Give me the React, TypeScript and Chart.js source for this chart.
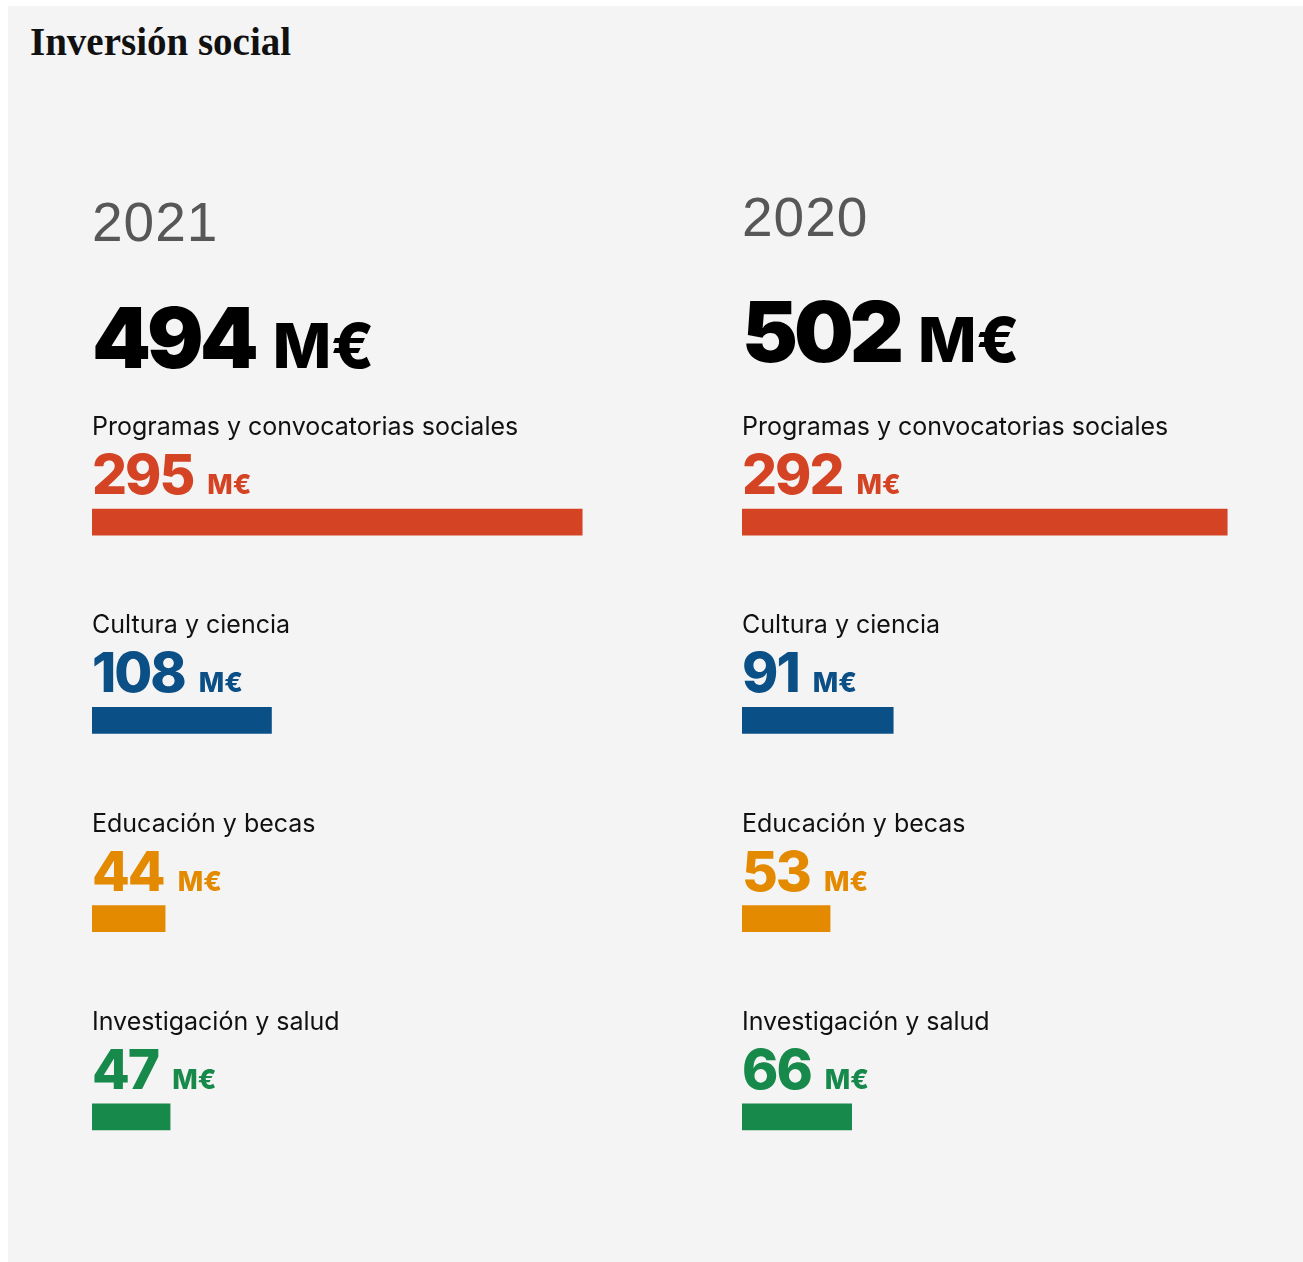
import React, { useEffect, useRef } from "react";
import { Chart, registerables } from "chart.js";

Chart.register(...registerables);

const title = "Inversión social";
const categories = [
  "Programas y convocatorias sociales",
  "Cultura y ciencia",
  "Educación y becas",
  "Investigación y salud",
];
const years = ["2021", "2020"];
const totals = [494, 502];
const values2021 = [295, 108, 44, 47];
const values2020 = [292, 91, 53, 66];
const unit = "M€";
const colors = ["#D44424", "#0B4F87", "#E38A00", "#17894A"];

const SANS = "Inter, 'Liberation Sans', sans-serif";

const labelsPlugin = {
  id: "colLabels",
  afterDatasetsDraw(chart: any, _args: any, opts: any) {
    const ctx = chart.ctx;
    const meta = chart.getDatasetMeta(0);
    const data = chart.data.datasets[0].data;
    const x0 = chart.chartArea.left;
    ctx.save();
    ctx.textAlign = "left";
    ctx.textBaseline = "alphabetic";
    // header: year + total
    ctx.fillStyle = "#575757";
    ctx.font = "400 55px 'Liberation Sans', sans-serif";
    ctx.letterSpacing = "1px";
    ctx.fillText(opts.year, x0, opts.yearY);
    ctx.fillStyle = "#000";
    ctx.font = `900 84px ${SANS}`;
    ctx.letterSpacing = "-4px";
    const t = String(opts.total);
    ctx.fillText(t, x0, opts.totalY);
    const tw = ctx.measureText(t).width;
    ctx.font = `800 62px ${SANS}`;
    ctx.letterSpacing = "0px";
    ctx.fillText(unit, x0 + tw + 18, opts.totalY);
    // category rows
    meta.data.forEach((bar: any, i: number) => {
      const p = bar.getProps(["x", "y", "base", "height"], true);
      const top = p.y - p.height / 2;
      const left = Math.min(p.base, p.x);
      ctx.letterSpacing = "0px";
      ctx.fillStyle = "#111";
      ctx.font = `400 25px ${SANS}`;
      ctx.fillText(chart.data.labels[i], left, top - 74);
      ctx.fillStyle = colors[i];
      ctx.font = `800 55px ${SANS}`;
      ctx.letterSpacing = "-2px";
      const v = String(data[i]);
      ctx.fillText(v, left, top - 15);
      const vw = ctx.measureText(v).width;
      ctx.letterSpacing = "0px";
      ctx.font = `800 27px ${SANS}`;
      ctx.fillText(unit, left + vw + 14, top - 15);
    });
    ctx.restore();
  },
};

function Column(props: {
  year: string;
  total: number;
  values: number[];
  left: number;
  yearY: number;
  totalY: number;
}) {
  const ref = useRef<HTMLCanvasElement | null>(null);
  useEffect(() => {
    if (!ref.current) return;
    const chart = new Chart(ref.current, {
      type: "bar",
      data: {
        labels: categories,
        datasets: [
          {
            data: props.values,
            backgroundColor: colors,
            borderWidth: 0,
            barThickness: 26,
          },
        ],
      },
      options: {
        indexAxis: "y",
        responsive: false,
        animation: false,
        devicePixelRatio: 1,
        layout: { padding: { top: 273, left: 0, right: 0, bottom: 0 } },
        scales: {
          x: { display: false, min: 0, max: 337 },
          y: { display: false },
        },
        plugins: {
          legend: { display: false },
          tooltip: { enabled: false },
          colLabels: {
            year: props.year,
            total: props.total,
            yearY: props.yearY,
            totalY: props.totalY,
          },
        } as any,
      },
      plugins: [labelsPlugin],
    } as any);
    return () => chart.destroy();
  }, []);
  return (
    <canvas
      ref={ref}
      width={560}
      height={1066}
      style={{ position: "absolute", left: props.left, top: 144, width: 560, height: 1066 }}
    />
  );
}

export default function App() {
  return (
    <div
      style={{
        position: "absolute",
        left: 8,
        top: 6,
        width: 1295,
        height: 1256,
        background: "#F4F4F4",
        overflow: "hidden",
      }}
    >
      <div
        style={{
          position: "absolute",
          left: 22,
          top: 16,
          fontFamily: "'Liberation Serif', serif",
          fontWeight: 700,
          fontSize: 39,
          lineHeight: 1,
          color: "#111",
          whiteSpace: "nowrap",
        }}
      >
        {title}
      </div>
      <Column year={years[0]} total={totals[0]} values={values2021} left={84} yearY={91} totalY={218} />
      <Column year={years[1]} total={totals[1]} values={values2020} left={734} yearY={86} totalY={212} />
    </div>
  );
}
